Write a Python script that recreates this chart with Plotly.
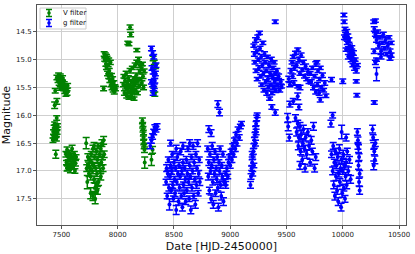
import plotly.graph_objects as go

# ---------------- V filter (green) ----------------
v_date = [
    # cluster ~7420-7470
    7425, 7430, 7432, 7435, 7438, 7440, 7442, 7445, 7448, 7452, 7455, 7458, 7462, 7465, 7450, 7440, 7460, 7458,
    # cluster ~7450-7560 bright
    7460, 7470, 7475, 7480, 7485, 7490, 7495, 7500, 7505, 7510, 7515, 7520, 7525, 7530, 7535, 7540, 7545, 7550, 7555, 7490, 7445,
    # cluster ~7540-7630 faint
    7540, 7545, 7550, 7555, 7560, 7565, 7570, 7575, 7580, 7585, 7590, 7595, 7600, 7605, 7610, 7615, 7620, 7625, 7630, 7550,
    # cluster ~7720-7880 faint
    7720, 7730, 7740, 7745, 7750, 7755, 7760, 7765, 7770, 7775, 7780, 7785, 7790, 7795, 7800, 7805, 7810, 7815, 7820, 7825,
    7830, 7835, 7840, 7845, 7850, 7855, 7860, 7865, 7870, 7875, 7880, 7760, 7800, 7780, 7820, 7790, 7810, 7850, 7725, 7735,
    # cluster ~7875-7980 bright
    7875, 7880, 7885, 7890, 7895, 7900, 7905, 7910, 7915, 7920, 7925, 7930, 7935, 7940, 7945, 7950, 7955, 7960, 7965, 7970,
    7975, 7980, 7900, 7920,
    # high points ~8100
    8110, 8115, 8090, 8100, 8170,
    # cluster ~8050-8235
    8050, 8055, 8060, 8065, 8070, 8075, 8080, 8085, 8090, 8095, 8100, 8105, 8110, 8115, 8120, 8125, 8130, 8135, 8140, 8145,
    8150, 8155, 8160, 8165, 8170, 8175, 8180, 8185, 8190, 8195, 8200, 8205, 8210, 8215, 8220, 8225, 8230, 8235, 8080, 8120,
    8140, 8160,
    # ~8320
    8315, 8325, 8335, 8320, 8330,
    # faint ~8220-8310
    8220, 8222, 8225, 8228, 8230, 8232, 8235, 8238, 8240, 8300, 8310,
]
v_mag = [
    16.45, 16.30, 16.38, 16.22, 16.40, 16.15, 16.33, 16.27, 16.20, 16.36, 16.42, 16.25, 16.30, 16.18, 16.70, 15.82, 15.75, 16.05,
    15.32, 15.38, 15.28, 15.42, 15.35, 15.30, 15.45, 15.36, 15.40, 15.33, 15.48, 15.52, 15.44, 15.58, 15.50, 15.62, 15.55, 15.60, 15.47, 15.52, 15.56,
    16.70, 16.85, 16.62, 16.95, 16.75, 16.90, 16.68, 16.80, 16.98, 16.72, 16.88, 16.60, 16.78, 16.92, 16.82, 16.70, 17.00, 16.86, 16.75, 16.95,
    16.50, 17.20, 16.90, 17.05, 16.80, 16.95, 17.10, 16.70, 16.85, 17.00, 16.60, 16.90, 17.15, 16.75, 17.30, 16.95, 16.65, 17.05, 16.80, 16.55,
    17.20, 16.90, 16.70, 17.00, 16.60, 16.85, 16.50, 16.75, 16.95, 16.45, 16.70, 17.40, 17.50, 17.45, 17.35, 16.55, 17.25, 17.10, 16.95, 16.75,
    15.52, 14.90, 15.00, 14.92, 15.08, 15.15, 14.98, 15.25, 15.10, 15.30, 15.20, 15.38, 15.05, 15.45, 15.28, 15.50, 15.35, 15.55, 15.42, 15.58,
    15.48, 15.52, 14.95, 15.00,
    14.42, 14.55, 14.70, 14.72, 14.83,
    15.45, 15.30, 15.60, 15.38, 15.50, 15.25, 15.65, 15.42, 15.55, 15.33, 15.68, 15.48, 15.20, 15.58, 15.40, 15.62, 15.15, 15.50, 15.35, 15.70,
    15.45, 15.10, 15.55, 15.28, 15.05, 15.60, 15.38, 15.00, 15.48, 15.22, 15.10, 15.35, 15.15, 15.42, 15.08, 15.30, 15.50, 15.20, 15.52, 15.66,
    15.58, 15.40,
    14.98, 15.05, 15.12, 15.55, 15.62,
    16.10, 16.18, 16.25, 16.32, 16.40, 16.48, 16.55, 16.62, 16.85, 16.80, 16.62,
]
v_err = [
    0.04, 0.04, 0.03, 0.04, 0.04, 0.03, 0.04, 0.04, 0.03, 0.04, 0.04, 0.03, 0.04, 0.03, 0.07, 0.06, 0.05, 0.04,
    0.04, 0.03, 0.04, 0.04, 0.03, 0.04, 0.04, 0.03, 0.04, 0.04, 0.03, 0.04, 0.04, 0.03, 0.04, 0.04, 0.03, 0.04, 0.04, 0.03, 0.04,
    0.05, 0.04, 0.05, 0.04, 0.05, 0.04, 0.05, 0.04, 0.05, 0.04, 0.05, 0.06, 0.04, 0.05, 0.04, 0.05, 0.04, 0.05, 0.04, 0.05,
    0.10, 0.12, 0.06, 0.05, 0.06, 0.05, 0.06, 0.05, 0.06, 0.05, 0.06, 0.05, 0.06, 0.05, 0.08, 0.05, 0.06, 0.05, 0.06, 0.05,
    0.06, 0.05, 0.06, 0.05, 0.06, 0.05, 0.06, 0.05, 0.06, 0.07, 0.06, 0.10, 0.09, 0.08, 0.07, 0.06, 0.07, 0.06, 0.06, 0.06,
    0.04, 0.04, 0.03, 0.04, 0.04, 0.03, 0.04, 0.04, 0.03, 0.04, 0.04, 0.03, 0.04, 0.04, 0.03, 0.04, 0.04, 0.03, 0.04, 0.04,
    0.03, 0.04, 0.04, 0.03,
    0.04, 0.04, 0.03, 0.03, 0.03,
    0.04, 0.03, 0.04, 0.04, 0.03, 0.04, 0.04, 0.03, 0.04, 0.04, 0.03, 0.04, 0.04, 0.03, 0.04, 0.04, 0.03, 0.04, 0.04, 0.03,
    0.04, 0.04, 0.03, 0.04, 0.04, 0.03, 0.04, 0.04, 0.03, 0.04, 0.04, 0.03, 0.04, 0.04, 0.03, 0.04, 0.04, 0.03, 0.04, 0.04,
    0.03, 0.04,
    0.04, 0.04, 0.04, 0.04, 0.04,
    0.05, 0.05, 0.05, 0.05, 0.05, 0.05, 0.05, 0.05, 0.10, 0.10, 0.06,
]

# ---------------- g filter (blue) ----------------
g_date = [
    # ~8300 bright
    8300, 8310, 8320, 8305, 8315, 8325, 8330, 8310, 8320, 8335, 8300, 8340, 8315, 8325,
    # ~8300 faint
    8290, 8300, 8310, 8320, 8330, 8340, 8350,
    # 8430-8730 faint dense
    8430, 8435, 8440, 8445, 8450, 8455, 8460, 8465, 8470, 8475, 8480, 8485, 8490, 8495, 8500, 8505, 8510, 8515, 8520, 8525,
    8530, 8535, 8540, 8545, 8550, 8555, 8560, 8565, 8570, 8575, 8580, 8585, 8590, 8595, 8600, 8605, 8610, 8615, 8620, 8625,
    8630, 8635, 8640, 8645, 8650, 8655, 8660, 8665, 8670, 8675, 8680, 8685, 8690, 8695, 8700, 8705, 8710, 8715, 8720, 8725,
    8730, 8470, 8520, 8580, 8640,
    # 8800-8945
    8810, 8830, 8800, 8805, 8810, 8815, 8820, 8825, 8830, 8835, 8840, 8845, 8850, 8855, 8860, 8865, 8870, 8875, 8880, 8885,
    8890, 8895, 8900, 8905, 8910, 8915, 8920, 8925, 8930, 8935, 8940, 8945, 8890, 8905,
    # 8950-9100 rising
    8955, 8962, 8970, 8978, 8985, 8992, 9000, 9008, 9015, 9022, 9030, 9038, 9045, 9052, 9060, 9070, 9080, 9090, 9100, 8960,
    # 9180-9240 rising
    9180, 9185, 9190, 9195, 9200, 9205, 9210, 9215, 9220, 9225, 9230, 9235, 9240, 9195, 9210, 9225, 9200, 9230,
    # 9210-9455 bright
    9210, 9215, 9220, 9225, 9230, 9235, 9240, 9245, 9250, 9255, 9260, 9265, 9270, 9275, 9280, 9285, 9290, 9295, 9300, 9305,
    9310, 9315, 9320, 9325, 9330, 9335, 9340, 9345, 9350, 9355, 9360, 9365, 9370, 9375, 9380, 9385, 9390, 9395, 9400, 9405,
    9410, 9415, 9420, 9430, 9440, 9450, 9455, 9400, 9400, 9370,
    # 9520-9700 bright
    9520, 9530, 9540, 9550, 9555, 9560, 9570, 9580, 9590, 9600, 9610, 9620, 9630, 9640, 9650, 9660, 9670, 9680, 9690, 9700,
    9565, 9600, 9620, 9530, 9560, 9600, 9610,
    # 9710-9850 bright
    9710, 9720, 9730, 9740, 9750, 9760, 9770, 9775, 9780, 9790, 9795, 9800, 9810, 9820, 9830, 9840, 9850, 9760, 9800, 9900,
    # 10010-10130 bright
    10010, 10012, 10020, 10025, 10030, 10035, 10040, 10045, 10050, 10055, 10060, 10065, 10070, 10075, 10080, 10085, 10090,
    10095, 10100, 10105, 10110, 10120, 10130, 10015, 10030, 10050, 10000, 10120, 10125,
    # 10275-10430 bright
    10275, 10290, 10280, 10290, 10300, 10310, 10320, 10330, 10340, 10350, 10360, 10370, 10380, 10390, 10400, 10410, 10420,
    10430, 10280, 10300, 10340, 10420, 10430, 10290, 10300, 10280,
    # 9510-9525 faint
    9510, 9515, 9525,
    # 9580-9760 faint
    9580, 9590, 9600, 9605, 9610, 9620, 9625, 9630, 9640, 9645, 9650, 9660, 9665, 9670, 9680, 9690, 9700, 9710, 9720, 9730,
    9740, 9750, 9760, 9620,
    # 9895-10070 faint
    9895, 9910, 9990, 10030,
    9900, 9910, 9915, 9920, 9925, 9930, 9935, 9940, 9945, 9950, 9955, 9960, 9965, 9970, 9975, 9980, 9985, 9990, 9995, 10000,
    10005, 10010, 10015, 10020, 10025, 10030, 10035, 10040, 10050, 10060, 10070,
    # 10130-10150 faint
    10130, 10135, 10140, 10145, 10140, 10150, 10145, 10150, 10135,
    # 10265-10290 faint
    10265, 10270, 10275, 10280, 10285, 10290, 10275,
]
g_mag = [
    14.80, 14.88, 14.95, 15.15, 15.22, 15.30, 15.38, 15.45, 15.52, 15.25, 15.40, 15.10, 15.60, 15.48,
    16.55, 16.45, 16.38, 16.30, 16.22, 16.25, 16.20,
    17.20, 16.95, 17.45, 17.05, 16.80, 17.30, 17.60, 17.10, 16.90, 17.35, 17.00, 16.70, 17.25, 17.50, 16.85, 17.15, 17.40, 16.95, 17.70, 17.20,
    16.75, 17.05, 17.55, 16.90, 17.30, 17.10, 16.65, 17.45, 17.00, 17.65, 16.85, 17.25, 17.40, 16.95, 17.15, 17.55, 16.80, 17.35, 17.05, 16.60,
    17.20, 17.50, 16.90, 17.10, 17.70, 16.75, 17.30, 17.00, 16.55, 17.45, 16.85, 17.15, 17.60, 16.70, 17.25, 16.95, 16.50, 17.40, 17.05, 16.80,
    17.20, 16.50, 16.60, 16.55, 16.50,
    16.25, 16.32, 16.60, 17.10, 16.85, 17.35, 16.70, 17.00, 17.50, 16.90, 16.55, 17.20, 17.60, 16.80, 17.05, 16.65, 17.40, 16.95, 17.15, 16.75,
    17.30, 17.65, 16.85, 17.00, 16.60, 17.25, 17.45, 16.90, 17.10, 16.70, 17.55, 17.20, 15.80, 15.95,
    17.20, 17.05, 16.95, 17.10, 16.85, 16.75, 16.90, 16.65, 16.80, 16.55, 16.70, 16.45, 16.60, 16.35, 16.50, 16.25, 16.40, 16.20, 16.15, 17.25,
    17.25, 17.10, 16.95, 16.85, 16.75, 16.65, 16.55, 16.45, 16.35, 16.25, 16.15, 16.05, 16.00, 16.70, 16.90, 16.50, 17.05, 16.30,
    14.75, 14.90, 15.05, 14.65, 15.20, 14.85, 15.35, 14.60, 15.00, 15.15, 14.52, 14.80, 15.30, 14.95, 15.45, 15.10, 14.70, 15.25, 15.55, 14.90,
    15.05, 15.40, 15.20, 15.60, 14.95, 15.35, 15.50, 15.10, 15.70, 15.25, 15.45, 15.00, 15.60, 15.30, 15.15, 15.50, 15.05, 15.40, 15.25, 15.55,
    15.35, 15.20, 15.45, 15.30, 15.55, 15.40, 15.48, 14.32, 15.95, 15.85,
    15.35, 15.45, 15.20, 15.05, 15.30, 14.95, 15.15, 14.88, 15.10, 14.82, 15.00, 15.25, 14.92, 15.18, 15.05, 15.30, 15.12, 15.35, 15.22, 15.40,
    15.42, 15.48, 15.50, 15.80, 15.75, 15.66, 15.85,
    15.25, 15.40, 15.15, 15.50, 15.30, 15.08, 15.05, 15.45, 15.20, 15.60, 15.35, 15.72, 15.50, 15.28, 15.55, 15.42, 15.65, 15.58, 15.15, 15.36,
    14.20, 14.32, 14.45, 14.55, 14.62, 14.50, 14.70, 14.58, 14.80, 14.65, 14.75, 14.90, 14.85, 15.00, 14.78, 14.95, 15.10,
    14.88, 15.05, 15.15, 15.00, 15.20, 15.10, 14.60, 14.82, 14.95, 15.39, 15.39, 15.64,
    14.32, 14.30, 14.45, 14.55, 14.65, 14.50, 14.75, 14.60, 14.85, 14.70, 14.55, 14.80, 14.65, 14.90, 14.75, 14.60, 14.85,
    14.70, 14.85, 15.00, 14.95, 14.98, 14.92, 15.05, 15.26, 15.77,
    16.05, 16.20, 16.40,
    16.05, 16.30, 16.15, 16.55, 16.40, 16.20, 16.65, 16.35, 16.80, 16.50, 16.25, 16.60, 16.95, 16.40, 16.70, 16.30, 16.55, 16.85, 16.45, 16.65,
    16.20, 16.95, 16.75, 16.90,
    16.15, 16.00, 16.30, 16.40,
    16.70, 17.00, 16.55, 17.25, 16.85, 17.45, 16.65, 17.10, 16.90, 17.35, 16.75, 17.55, 17.05, 16.60, 17.20, 16.95, 17.65, 16.80, 17.40, 17.00,
    16.70, 17.30, 16.90, 17.50, 17.10, 16.85, 17.25, 16.65, 17.00, 16.80, 17.15,
    16.30, 16.45, 16.60, 16.75, 16.90, 17.05, 17.20, 17.35, 16.55,
    16.25, 16.40, 16.55, 16.65, 16.80, 16.50, 16.90,
]
g_err = [
    0.04, 0.04, 0.04, 0.04, 0.04, 0.04, 0.04, 0.04, 0.04, 0.04, 0.04, 0.04, 0.04, 0.04,
    0.05, 0.05, 0.05, 0.05, 0.05, 0.05, 0.05,
    0.05, 0.06, 0.05, 0.06, 0.05, 0.06, 0.10, 0.05, 0.06, 0.05, 0.06, 0.05, 0.06, 0.05, 0.06, 0.05, 0.06, 0.05, 0.08, 0.05,
    0.06, 0.05, 0.06, 0.05, 0.06, 0.05, 0.06, 0.05, 0.06, 0.07, 0.06, 0.05, 0.06, 0.05, 0.06, 0.05, 0.06, 0.05, 0.06, 0.05,
    0.06, 0.05, 0.06, 0.05, 0.07, 0.05, 0.06, 0.05, 0.06, 0.05, 0.06, 0.05, 0.07, 0.05, 0.06, 0.05, 0.06, 0.05, 0.06, 0.05,
    0.06, 0.05, 0.06, 0.06, 0.06,
    0.06, 0.06, 0.05, 0.06, 0.05, 0.06, 0.05, 0.06, 0.07, 0.05, 0.06, 0.05, 0.07, 0.05, 0.06, 0.05, 0.06, 0.05, 0.06, 0.05,
    0.06, 0.07, 0.05, 0.06, 0.05, 0.06, 0.07, 0.05, 0.06, 0.05, 0.07, 0.06, 0.06, 0.06,
    0.05, 0.04, 0.05, 0.04, 0.05, 0.04, 0.05, 0.04, 0.05, 0.04, 0.05, 0.04, 0.05, 0.04, 0.05, 0.04, 0.05, 0.04, 0.04, 0.06,
    0.06, 0.05, 0.04, 0.05, 0.04, 0.05, 0.04, 0.05, 0.04, 0.05, 0.04, 0.05, 0.04, 0.05, 0.04, 0.05, 0.04, 0.05,
    0.03, 0.04, 0.03, 0.04, 0.03, 0.04, 0.03, 0.04, 0.03, 0.04, 0.03, 0.04, 0.03, 0.04, 0.03, 0.04, 0.03, 0.04, 0.03, 0.04,
    0.03, 0.04, 0.03, 0.04, 0.03, 0.04, 0.03, 0.04, 0.03, 0.04, 0.03, 0.04, 0.03, 0.04, 0.03, 0.04, 0.03, 0.04, 0.03, 0.04,
    0.03, 0.04, 0.03, 0.04, 0.03, 0.04, 0.03, 0.03, 0.05, 0.04,
    0.05, 0.04, 0.04, 0.03, 0.04, 0.03, 0.04, 0.03, 0.04, 0.03, 0.04, 0.03, 0.04, 0.03, 0.04, 0.03, 0.04, 0.03, 0.04, 0.03,
    0.04, 0.03, 0.04, 0.05, 0.05, 0.06, 0.05,
    0.03, 0.04, 0.03, 0.04, 0.03, 0.04, 0.03, 0.04, 0.03, 0.04, 0.03, 0.04, 0.03, 0.04, 0.03, 0.04, 0.03, 0.04, 0.03, 0.04,
    0.03, 0.03, 0.03, 0.04, 0.03, 0.04, 0.03, 0.04, 0.03, 0.04, 0.03, 0.04, 0.03, 0.04, 0.03, 0.04, 0.03,
    0.04, 0.03, 0.04, 0.03, 0.04, 0.03, 0.04, 0.03, 0.04, 0.04, 0.03, 0.03,
    0.03, 0.03, 0.04, 0.03, 0.04, 0.03, 0.04, 0.03, 0.04, 0.03, 0.04, 0.03, 0.04, 0.03, 0.04, 0.03, 0.04,
    0.03, 0.04, 0.03, 0.04, 0.03, 0.04, 0.04, 0.12, 0.03,
    0.08, 0.08, 0.06,
    0.06, 0.07, 0.06, 0.07, 0.06, 0.07, 0.06, 0.07, 0.07, 0.06, 0.07, 0.06, 0.07, 0.06, 0.07, 0.06, 0.07, 0.06, 0.07, 0.06,
    0.07, 0.07, 0.06, 0.07,
    0.06, 0.05, 0.12, 0.06,
    0.06, 0.07, 0.06, 0.07, 0.06, 0.07, 0.06, 0.07, 0.06, 0.07, 0.06, 0.07, 0.06, 0.07, 0.06, 0.07, 0.07, 0.06, 0.07, 0.06,
    0.07, 0.06, 0.07, 0.06, 0.07, 0.06, 0.07, 0.06, 0.07, 0.06, 0.07,
    0.06, 0.06, 0.07, 0.06, 0.07, 0.06, 0.07, 0.07, 0.06,
    0.07, 0.05, 0.06, 0.06, 0.07, 0.06, 0.08,
]

series_names = ["V filter", "g filter"]
series_colors = ["#008000", "#0000ff"]
x_ticks = [7500, 8000, 8500, 9000, 9500, 10000, 10500]
y_ticks = [14.5, 15.0, 15.5, 16.0, 16.5, 17.0, 17.5]

assert len(v_date) == len(v_mag) == len(v_err), (len(v_date), len(v_mag), len(v_err))
assert len(g_date) == len(g_mag) == len(g_err), (len(g_date), len(g_mag), len(g_err))

fig = go.Figure()
for name, xs, ys, es, col in [(series_names[0], v_date, v_mag, v_err, series_colors[0]),
                              (series_names[1], g_date, g_mag, g_err, series_colors[1])]:
    fig.add_trace(go.Scatter(
        x=xs, y=ys, mode="markers", name=name, showlegend=False,
        marker=dict(color=col, size=4),
        error_y=dict(type="data", array=es, visible=True, color=col, thickness=1.5, width=3.5),
    ))

# matplotlib-style legend box (drawn in paper coordinates)
PW, PH = 369.0, 220.0   # plot area in px
def px(xp):
    return xp / PW
def py(yp):
    return 1 - yp / PH

shapes = [dict(type="rect", xref="paper", yref="paper", x0=px(3), x1=px(49), y0=py(3), y1=py(24),
               line=dict(color="#cccccc", width=1), fillcolor="rgba(255,255,255,0.85)", layer="above")]
annotations = []
for i, (name, col) in enumerate(zip(series_names, series_colors)):
    cy = 8 + 10 * i
    cx = 12
    shapes.append(dict(type="line", xref="paper", yref="paper", x0=px(cx), x1=px(cx), y0=py(cy - 3.5), y1=py(cy + 3.5),
                       line=dict(color=col, width=1.5), layer="above"))
    for dy in (-3.5, 3.5):
        shapes.append(dict(type="line", xref="paper", yref="paper", x0=px(cx - 3), x1=px(cx + 3), y0=py(cy + dy), y1=py(cy + dy),
                           line=dict(color=col, width=1.5), layer="above"))
    shapes.append(dict(type="circle", xref="paper", yref="paper", x0=px(cx - 1.8), x1=px(cx + 1.8), y0=py(cy - 1.8), y1=py(cy + 1.8),
                       line=dict(color=col, width=0), fillcolor=col, layer="above"))
    annotations.append(dict(xref="paper", yref="paper", x=px(24), y=py(cy), text=name, showarrow=False,
                            xanchor="left", yanchor="middle", font=dict(size=7, color="#111111")))

axis_common = dict(showgrid=True, gridcolor="#cfcfcf", gridwidth=1, showline=True, linecolor="#555555",
                   linewidth=1, mirror=True, ticks="outside", ticklen=3, tickcolor="#555555",
                   zeroline=False, automargin=False, tickfont=dict(size=7, color="#222222"))

fig.update_layout(
    width=415, height=254,
    margin=dict(l=37, r=9, t=5, b=29, autoexpand=False),
    paper_bgcolor="white", plot_bgcolor="white",
    font=dict(family="DejaVu Sans", color="#111111"),
    showlegend=False,
    shapes=shapes, annotations=annotations,
    xaxis=dict(range=[7283, 10562], tickvals=x_ticks, ticktext=[str(t) for t in x_ticks],
               title=dict(text="Date [HJD-2450000]", font=dict(size=11), standoff=3), **axis_common),
    yaxis=dict(range=[17.97, 14.02], tickvals=y_ticks, ticktext=[f"{t:.1f}" for t in y_ticks],
               title=dict(text="Magnitude", font=dict(size=11), standoff=3), **axis_common),
)

fig.write_html("out.html", config={"displayModeBar": False},
               post_script="document.body.style.margin='0';document.body.style.padding='0';")
